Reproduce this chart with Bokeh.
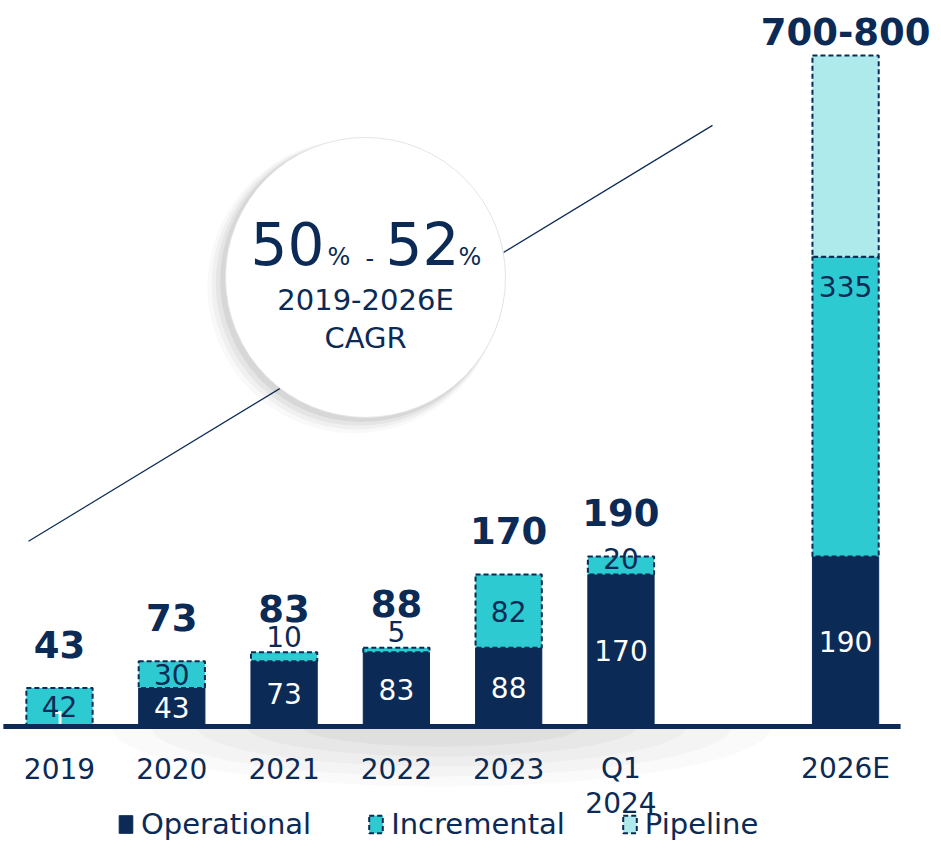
import numpy as np
from bokeh.plotting import figure
from bokeh.models import ColumnDataSource, Legend, LegendItem, Range1d
from bokeh.core.properties import value
from bokeh.embed import file_html
from bokeh.resources import INLINE

# ---------------- data ----------------
categories = ["2019", "2020", "2021", "2022", "2023", "Q1\n2024", "2026E"]
slots = [0, 1, 2, 3, 4, 5, 7]          # slot 6 left empty as in the original
operational = [1, 43, 73, 83, 88, 170, 190]
incremental = [42, 30, 10, 5, 82, 20, 335]
pipeline = [0, 0, 0, 0, 0, 0, 225]
total_labels = ["43", "73", "83", "88", "170", "190", "700-800"]
cagr_low, cagr_high = "50", "52"
cagr_period = "2019-2026E"

NAVY = "#0b2a55"
TEAL = "#2dcad1"
LIGHT = "#aeeaec"
FONT = "DejaVu Sans"

# ---------------- derived ----------------
inc_top = [o + i for o, i in zip(operational, incremental)]
pipe_top = [t + p for t, p in zip(inc_top, pipeline)]

op_label_y = [max(o / 2, 6) for o in operational]
inc_label_y, inc_label_off = [], []
for o, i in zip(operational, incremental):
    if i <= 10:
        inc_label_y.append(o + i); inc_label_off.append(-16)
    elif i >= 100:
        inc_label_y.append(o + i); inc_label_off.append(30)
    elif i < 25:
        inc_label_y.append(o + i / 2); inc_label_off.append(-7)
    else:
        inc_label_y.append(o + i / 2); inc_label_off.append(0)
tot_off = [-24 if p > 0 else -44 for p in pipeline]
cat_line1 = [c.split("\n")[0] for c in categories]
cat_line2 = [c.split("\n")[1] if "\n" in c else "" for c in categories]

src = ColumnDataSource(dict(
    x=slots, op=operational, inc_top=inc_top, top=pipe_top,
    op_lab=[str(v) for v in operational], inc_lab=[str(v) for v in incremental],
    op_y=op_label_y, inc_y=inc_label_y, inc_off=inc_label_off,
    tot=total_labels, tot_off=tot_off,
    cat1=cat_line1, cat2=cat_line2, base=[0] * len(slots),
))
pipe_idx = [k for k, p in enumerate(pipeline) if p > 0]
pipe_src = ColumnDataSource(dict(
    x=[slots[k] for k in pipe_idx],
    bottom=[inc_top[k] for k in pipe_idx],
    top=[pipe_top[k] for k in pipe_idx],
))

PX_X = 112.3     # px per slot
PX_Y = 0.8945    # px per unit
p = figure(width=933, height=842,
           x_range=Range1d(-0.5254, 7.783), y_range=Range1d(-129.7, 811.6),
           output_backend="svg", toolbar_location=None,
           x_axis_location=None, y_axis_location=None,
           min_border=0, min_border_left=0, min_border_right=0,
           min_border_top=0, min_border_bottom=0,
           outline_line_color=None, background_fill_color="white")
p.xgrid.visible = False
p.ygrid.visible = False

# soft floor shadow under the baseline
sx = 3.4
t = np.linspace(0, np.pi, 60)
for a, b, al in [(330, 60, 0.018), (290, 50, 0.022), (245, 40, 0.025),
                 (195, 30, 0.028), (140, 20, 0.03)]:
    p.patch(x=sx + (a / PX_X) * np.cos(t), y=-(b / PX_Y) * np.sin(t),
            fill_color="black", fill_alpha=al, line_color=None)

# decorative trend line
p.line(x=[-0.276, 5.815], y=[207, 672], line_color=NAVY, line_width=1.2)

# CAGR bubble with soft shadow
cx, cy = 2.725, 502
for dx, dy, s, a in [(-0.10, -10, 294, 0.025), (-0.08, -8, 290, 0.035),
                     (-0.06, -6, 286, 0.045), (-0.035, -3.5, 283, 0.06)]:
    p.scatter(x=[cx + dx], y=[cy + dy], size=s, fill_color="black",
              fill_alpha=a, line_color=None)
p.scatter(x=[cx], y=[cy], size=280, fill_color="white", line_color="#e4e4e4")

def ctext(txt, xo, yo, size, align="left"):
    p.text(x=[cx], y=[cy], text=[txt], x_offset=xo, y_offset=yo,
           text_font=value(FONT), text_font_size=size, text_color=NAVY,
           text_align=align, text_baseline="middle")

ctext(cagr_low, -115, -34, "58px")
ctext("%", -38, -20, "24px")
ctext("-", 0, -19, "24px")
ctext(cagr_high, 20, -34, "58px")
ctext("%", 93, -20, "24px")
ctext(cagr_period, 0, 23, "29px", "center")
ctext("CAGR", 0, 61, "29px", "center")

# stacked bars
W = 0.59
r_op = p.vbar(x="x", bottom=0, top="op", width=W, source=src,
              fill_color=NAVY, line_color=NAVY)
r_inc = p.vbar(x="x", bottom="op", top="inc_top", width=W, source=src,
               fill_color=TEAL, line_color=NAVY, line_width=2, line_dash="5 3")
r_pipe = p.vbar(x="x", bottom="bottom", top="top", width=W, source=pipe_src,
                fill_color=LIGHT, line_color=NAVY, line_width=2, line_dash="5 3")

# segment labels
p.text(x="x", y="op_y", text="op_lab", source=src, text_font=value(FONT),
       text_font_size="28px", text_color="white", text_align="center",
       text_baseline="middle")
p.text(x="x", y="inc_y", text="inc_lab", y_offset="inc_off", source=src,
       text_font=value(FONT), text_font_size="28px", text_color=NAVY,
       text_align="center", text_baseline="middle")
# totals
p.text(x="x", y="top", text="tot", y_offset="tot_off", source=src,
       text_font=value(FONT), text_font_size="37px", text_font_style="bold",
       text_color=NAVY, text_align="center", text_baseline="middle")

# baseline (category axis line)
p.segment(x0=[-0.5], y0=[0], x1=[7.49], y1=[0], line_color=NAVY, line_width=5)

# category (tick) labels, two rows
for col, off in [("cat1", 42), ("cat2", 76)]:
    p.text(x="x", y="base", text=col, source=src, y_offset=off,
           text_font=value(FONT), text_font_size="28px", text_color=NAVY,
           text_align="center", text_baseline="middle")

legend = Legend(items=[LegendItem(label="Operational", renderers=[r_op]),
                       LegendItem(label="Incremental", renderers=[r_inc]),
                       LegendItem(label="Pipeline", renderers=[r_pipe])],
                orientation="horizontal", location=(117, 1),
                label_text_font=FONT, label_text_font_size="29px",
                label_text_color=NAVY, glyph_width=17, glyph_height=22,
                label_standoff=7, spacing=56, padding=0, margin=0,
                border_line_color=None, background_fill_alpha=0)
p.add_layout(legend, "center")

open("out.html", "w").write(file_html(p, INLINE))
